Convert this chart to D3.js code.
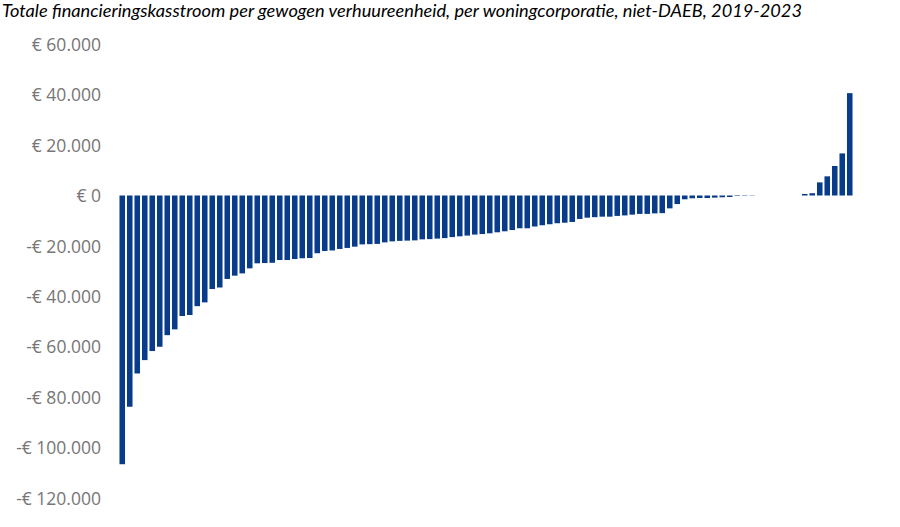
<!DOCTYPE html>
<html>
<head>
<meta charset="utf-8">
<script src="https://cdn.jsdelivr.net/npm/d3@7"></script>
<style>
  html, body { margin: 0; padding: 0; background: #fff; }
  svg { display: block; }
</style>
</head>
<body>
<svg id="chart" width="900" height="527"></svg>
<script>
const title = "Totale financieringskasstroom per gewogen verhuureenheid, per woningcorporatie, niet-DAEB, 2019-2023";

// Totale financieringskasstroom per gewogen verhuureenheid (euro), one value per woningcorporatie
const values = [
  -106600, -83800, -70600, -65300, -61700, -60000, -55400, -53100, -47800, -47400,
  -43900, -42400, -37100, -36500, -33100, -31800, -30900, -28900, -26900, -26800,
  -26700, -25600, -25600, -25200, -24900, -24800, -22900, -22000, -21800, -21200,
  -20800, -20300, -19400, -19300, -19200, -18600, -18200, -18000, -17900, -17800,
  -17400, -17300, -17100, -16900, -16500, -16200, -15900, -15500, -15300, -15000,
  -14600, -14200, -13700, -13000, -13000, -12300, -11800, -11400, -11000, -10800,
  -10500, -9300, -8800, -8600, -8400, -8400, -8100, -7900, -7600, -7300,
  -7300, -7100, -7000, -5100, -3400, -1500, -1100, -1000, -1000, -850,
  -700, -600, -200, -150, -100, 0, 0, 0, 0, 0,
  0, 600, 900, 5200, 7600, 11700, 16700, 40600
];
const categories = values.map((_, i) => "Corporatie " + (i + 1));

const tickValues = [60000, 40000, 20000, 0, -20000, -40000, -60000, -80000, -100000, -120000];
const tickLabels = ["€ 60.000", "€ 40.000", "€ 20.000", "€ 0", "-€ 20.000", "-€ 40.000",
                    "-€ 60.000", "-€ 80.000", "-€ 100.000", "-€ 120.000"];

const svg = d3.select("#chart");

const y = d3.scaleLinear().domain([-120000, 60000]).range([498, 44.25]);
const x = d3.scaleBand().domain(categories).range([118.5, 853.5])
  .paddingInner(0.26).paddingOuter(0.13);

// Title
svg.append("text")
  .attr("x", 2).attr("y", 17)
  .attr("font-family", "Lato, 'Open Sans', sans-serif")
  .attr("font-style", "italic")
  .attr("font-size", 17)
  .attr("fill", "#000")
  .attr("textLength", 800)
  .attr("lengthAdjust", "spacingAndGlyphs")
  .text(title);

// Y axis
const yAxis = d3.axisLeft(y)
  .tickValues(tickValues)
  .tickSize(0)
  .tickPadding(0)
  .tickFormat((d, i) => tickLabels[i]);

const gy = svg.append("g").attr("transform", "translate(101,0)").call(yAxis);
gy.select(".domain").remove();
gy.selectAll("text")
  .attr("font-family", "'Open Sans', sans-serif")
  .attr("font-size", 17.5)
  .attr("fill", "#767676")
  .attr("dy", "0.35em");

// Bars
svg.append("g").selectAll("rect")
  .data(values)
  .join("rect")
  .attr("x", (d, i) => x(categories[i]))
  .attr("width", x.bandwidth())
  .attr("y", d => y(Math.max(0, d)))
  .attr("height", d => Math.abs(y(d) - y(0)))
  .attr("fill", "#083b8a");
</script>
</body>
</html>
